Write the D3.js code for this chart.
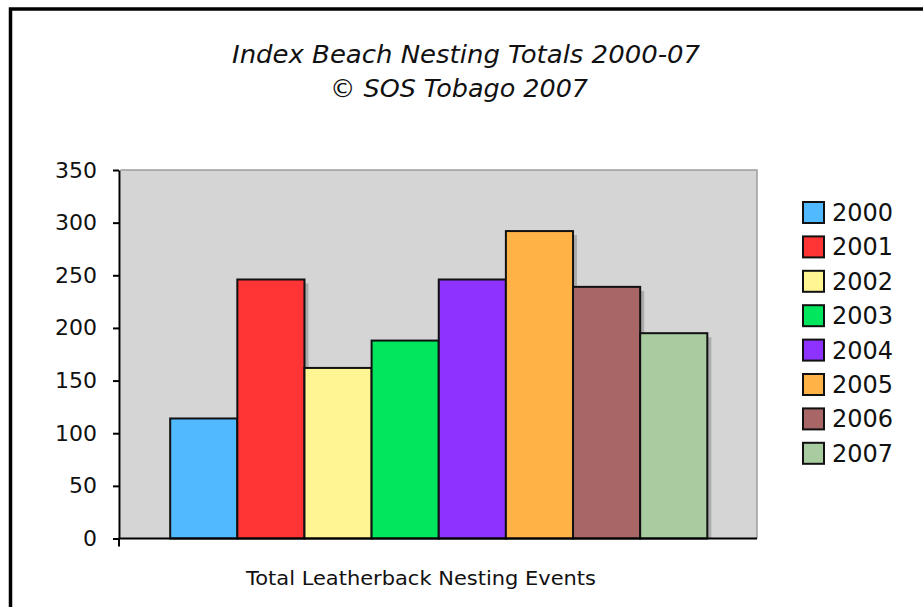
<!DOCTYPE html>
<html>
<head>
<meta charset="utf-8">
<script src="https://cdn.jsdelivr.net/npm/d3@7"></script>
<style>
  html, body { margin: 0; padding: 0; background: #fff; }
  svg { display: block; }
  text { font-family: "DejaVu Sans", "Open Sans", sans-serif; fill: #111; }
</style>
</head>
<body>
<svg id="chart" width="923" height="607"></svg>
<script>
// Leatherback nesting totals per season
const years = ["2000", "2001", "2002", "2003", "2004", "2005", "2006", "2007"];
const nestingTotals = [114, 246, 162, 188, 246, 292, 239, 195];
const yearColors = ["#50b9ff", "#ff3535", "#fff592", "#00e65d", "#8e33ff", "#ffb347", "#a86667", "#a8cb9f"];
const yTicks = [0, 50, 100, 150, 200, 250, 300, 350];
const titleLines = ["Index Beach Nesting Totals 2000-07", "\u00a9 SOS Tobago 2007"];
const xAxisTitle = "Total Leatherback Nesting Events";

const svg = d3.select("#chart");

// frame (only the top and left edges sit inside the canvas)
svg.append("path")
  .attr("d", "M10.5,607 L10.5,9 L923,9")
  .attr("fill", "none").attr("stroke", "#000").attr("stroke-width", 3.5);

const plot = { left: 120.5, right: 757, top: 170, bottom: 538.5 };

const y = d3.scaleLinear().domain([0, 350]).range([plot.bottom, plot.top]);
const x = d3.scaleBand().domain(years)
  .range([plot.left, plot.right])
  .paddingOuter(0.74).paddingInner(0);

// plot background
svg.append("rect")
  .attr("x", plot.left).attr("y", plot.top)
  .attr("width", plot.right - plot.left).attr("height", plot.bottom - plot.top)
  .attr("fill", "#d5d5d5");
svg.append("path")
  .attr("d", `M${plot.left},${plot.top} L${plot.right},${plot.top} L${plot.right},${plot.bottom}`)
  .attr("fill", "none").attr("stroke", "#9d9d9d").attr("stroke-width", 1.5);

const data = years.map((yr, i) => ({ year: yr, value: nestingTotals[i], color: yearColors[i] }));

// bar drop shadows
svg.append("g").selectAll("rect").data(data).join("rect")
  .attr("x", d => x(d.year) + 4)
  .attr("y", d => y(d.value) + 4)
  .attr("width", x.bandwidth())
  .attr("height", d => plot.bottom - y(d.value) - 4)
  .attr("fill", "#ababab");

// bars
svg.append("g").selectAll("rect").data(data).join("rect")
  .attr("x", d => x(d.year))
  .attr("y", d => y(d.value))
  .attr("width", x.bandwidth())
  .attr("height", d => plot.bottom - y(d.value))
  .attr("fill", d => d.color)
  .attr("stroke", "#111").attr("stroke-width", 2);

// y axis
const yAxis = svg.append("g")
  .attr("transform", `translate(${plot.left - 1.5},0)`)
  .call(d3.axisLeft(y).tickValues(yTicks).tickSize(6).tickSizeOuter(0).tickPadding(16));
yAxis.select(".domain").attr("stroke", "#000").attr("stroke-width", 2);
yAxis.selectAll(".tick line").attr("stroke", "#000").attr("stroke-width", 2);
yAxis.selectAll(".tick text")
  .style("font-family", "'DejaVu Sans', sans-serif")
  .style("font-size", "22px").attr("fill", "#111");
yAxis.append("line")
  .attr("x1", 0).attr("x2", 0).attr("y1", plot.bottom).attr("y2", plot.bottom + 8)
  .attr("stroke", "#000").attr("stroke-width", 2);

// x axis baseline
svg.append("line")
  .attr("x1", plot.left - 2).attr("x2", plot.right)
  .attr("y1", plot.bottom).attr("y2", plot.bottom)
  .attr("stroke", "#000").attr("stroke-width", 2);

// title
svg.append("text")
  .attr("x", 466).attr("y", 63)
  .attr("text-anchor", "middle")
  .style("font-style", "italic").style("font-size", "24px")
  .attr("textLength", 468).attr("lengthAdjust", "spacingAndGlyphs")
  .text(titleLines[0]);
svg.append("text")
  .attr("x", 459).attr("y", 97)
  .attr("text-anchor", "middle")
  .style("font-style", "italic").style("font-size", "24px")
  .attr("textLength", 258).attr("lengthAdjust", "spacingAndGlyphs")
  .text(titleLines[1]);

// x axis title
svg.append("text")
  .attr("x", 421).attr("y", 585)
  .attr("text-anchor", "middle")
  .style("font-size", "19px")
  .attr("textLength", 350).attr("lengthAdjust", "spacingAndGlyphs")
  .text(xAxisTitle);

// legend
const legend = svg.append("g").attr("transform", "translate(803,202)");
const row = legend.selectAll("g").data(data).join("g")
  .attr("transform", (d, i) => `translate(0,${i * 34.4})`);
row.append("rect")
  .attr("width", 21).attr("height", 21)
  .attr("fill", d => d.color)
  .attr("stroke", "#111").attr("stroke-width", 2);
row.append("text")
  .attr("x", 29).attr("y", 11)
  .attr("dominant-baseline", "central")
  .style("font-size", "24px")
  .text(d => d.year);
</script>
</body>
</html>
